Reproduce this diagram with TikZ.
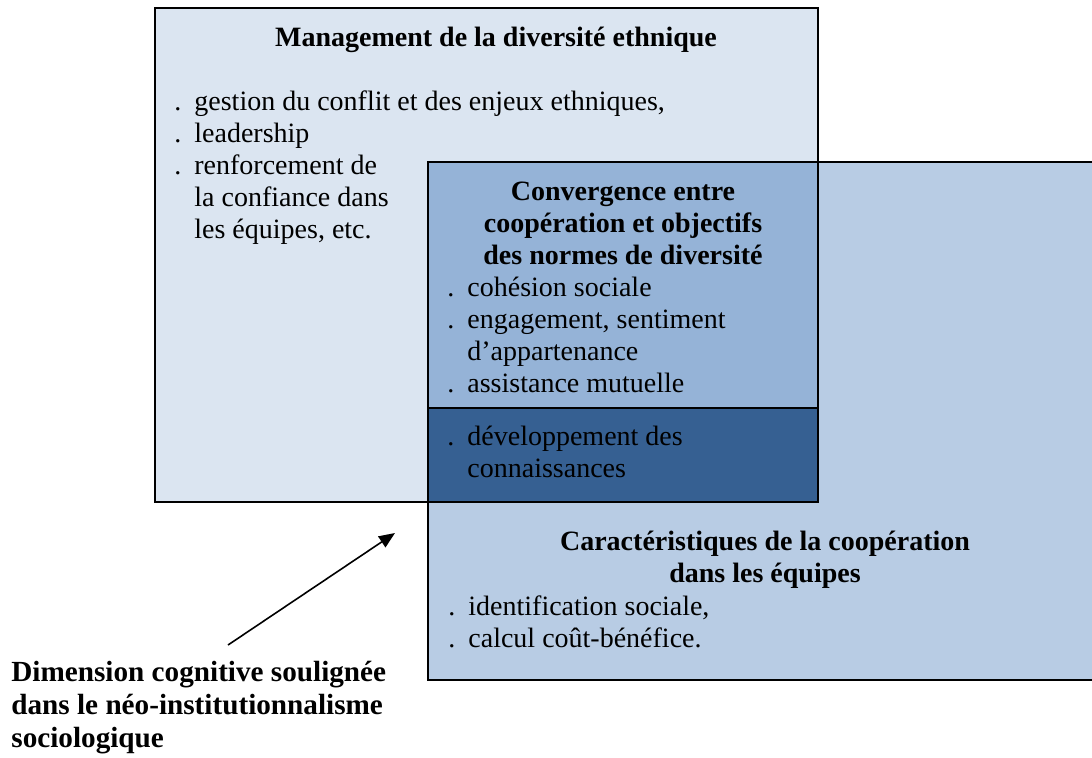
\documentclass[tikz,border=0pt]{standalone}
\usepackage{fontspec}
\setmainfont{Liberation Serif}
\usetikzlibrary{arrows.meta}
\definecolor{bleuclair}{HTML}{DBE5F1}
\definecolor{bleumoyen}{HTML}{B8CCE4}
\definecolor{bleuvif}{HTML}{95B3D7}
\definecolor{bleufonce}{HTML}{366092}
\newcommand{\puce}{\makebox[10pt][l]{.}}
\newcommand{\suite}{\hspace*{10pt}}
\tikzset{x=0.5pt,y=-0.5pt,
  boite/.style={rectangle, draw=black, line width=1pt, inner sep=0pt, outer sep=0pt, anchor=north west},
  titre/.style={font=\fontsize{14}{16}\selectfont\bfseries, align=center, inner sep=0pt, anchor=base},
  liste/.style={font=\fontsize{14}{16}\selectfont, align=left, inner sep=0pt, anchor=base west},
  fleche/.style={-{Triangle[length=8pt,width=6.5pt]}, line width=0.8pt}}

\begin{document}
\begin{tikzpicture}
\clip (0,0) rectangle (1092,757);
% les quatre cadres
\node[boite, fill=bleuclair, minimum width=331.5pt, minimum height=247pt] (diversite) at (155,8) {};
\node[boite, fill=bleumoyen, minimum width=336pt, minimum height=259pt] (cooperation) at (428,162) {};
\node[boite, fill=bleuvif, minimum width=195pt, minimum height=123pt] (convergence) at (428,162) {};
\node[boite, fill=bleufonce, minimum width=195pt, minimum height=47pt] (connaissances) at (428,408) {};

% textes (placés sur la ligne de base de leur derniere ligne)
\node[titre] (titreA) at (496,46) {Management de la diversité ethnique};
\node[liste] (listeA) at (174,238) {\puce gestion du conflit et des enjeux ethniques,\\
  \puce leadership\\
  \puce renforcement de\\
  \suite la confiance dans\\
  \suite les équipes, etc.};
\node[titre] (titreConv) at (623,264) {Convergence entre\\ coopération et objectifs\\ des normes de diversité};
\node[liste] (listeConv) at (447,392) {\puce cohésion sociale\\
  \puce engagement, sentiment\\
  \suite d’appartenance\\
  \puce assistance mutuelle};
\node[liste] (listeDev) at (447,477) {\puce développement des\\ \suite connaissances};
\node[titre] (titreB) at (765,582) {Caractéristiques de la coopération\\ dans les équipes};
\node[liste] (listeB) at (448,647) {\puce identification sociale,\\ \puce calcul coût-bénéfice.};
\node[titre, font=\fontsize{14.6}{16.5}\selectfont\bfseries, align=left, anchor=base west] (dimension) at (11,747) {Dimension cognitive soulignée\\ dans le néo-institutionnalisme\\ sociologique};

% la fleche
\coordinate (queue) at (228,645);
\coordinate (pointe) at (395,533);
\draw[fleche] (queue) -- (pointe);

\end{tikzpicture}
\end{document}
